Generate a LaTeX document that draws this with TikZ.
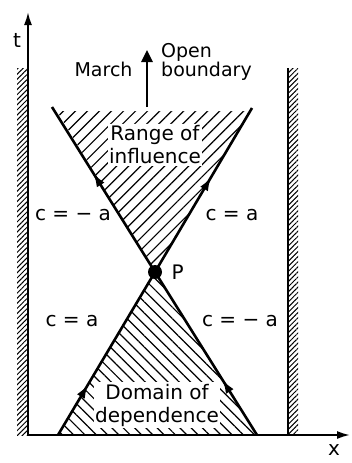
\documentclass[tikz,border=0pt]{standalone}
\usepackage{fontspec}
\setmainfont{DejaVu Sans}
\usetikzlibrary{arrows.meta, patterns.meta, decorations.markings}

\tikzset{
  charline/.style={line width=2.6pt},
  midarrow/.style={postaction={decorate}, decoration={markings,
      mark=at position #1 with {\arrow{Latex[length=14pt,width=9pt]}}}},
  wallhatch/.style={pattern={Lines[angle=45,distance=3.6pt,line width=1pt]}},
  uphatch/.style={pattern={Lines[angle=45,distance=8.5pt,line width=1.2pt]}},
  downhatch/.style={pattern={Lines[angle=-45,distance=8pt,line width=1.2pt]}},
  lbl/.style={fill=white, inner sep=1.5pt}
}

\begin{document}
\begin{tikzpicture}[x=1pt, y=-1pt, font=\fontsize{20}{23}\selectfont]
  \useasboundingbox (0,0) rectangle (351,463);
  % points
  \coordinate (P) at (155,272);
  \coordinate (ul) at (52,107);
  \coordinate (ur) at (252,108);
  \coordinate (ll) at (58,435);
  \coordinate (lr) at (257,435);
  \coordinate (ut) at (57,111);
  \coordinate (urt) at (250,111);
  \coordinate (O) at (28,435);
  \coordinate (tend) at (28,12);
  \coordinate (xend) at (350,435);
  \coordinate (wr) at (288,68);
  \coordinate (wrb) at (288,435);

  % hatched regions
  \fill[wallhatch] (17,68) rectangle (28,435);
  \fill[wallhatch] (288,68) rectangle (298,435);
  \fill[uphatch] (P) -- (ut) -- (urt) -- cycle;
  \fill[downhatch] (P) -- (ll) -- (lr) -- cycle;

  % region labels
  \node[lbl, align=center] (range) at (155,145) {Range of\\influence};
  \node[lbl, align=center] (domain) at (157,405) {Domain of\\dependence};

  % axes and wall
  \draw[line width=1.8pt, -{Latex[length=13pt,width=8pt]}] (O) -- (tend);
  \draw[line width=1.8pt, -{Latex[length=13pt,width=8pt]}] (O) -- (xend);
  \draw[line width=2.4pt] (wr) -- (wrb);
  \node (tlab) at (17,40) {t};
  \node (xlab) at (334,450) {x};

  % characteristics
  \draw[charline, midarrow=0.6] (P) -- (ul);
  \draw[charline, midarrow=0.58] (P) -- (ur);
  \draw[charline, midarrow=0.31] (ll) -- (P);
  \draw[charline, midarrow=0.34] (lr) -- (P);
  \fill (P) circle (7);
  \node[anchor=west] (plab) at (168,272) {P};

  \node (c1) at (73,215) {c = − a};
  \node (c2) at (232,215) {c = a};
  \node (c3) at (72,321) {c = a};
  \node (c4) at (240,321) {c = − a};

  % marching direction
  \coordinate (mlow) at (147,107);
  \coordinate (mtop) at (147,50);
  \draw[line width=2.6pt, -{Triangle[length=12pt,width=11pt]}] (mlow) -- (mtop);
  \node[anchor=base east, font=\fontsize{19}{19}\selectfont] (march) at (136,76) {March};
  \node[anchor=base west, align=left, inner sep=0pt, font=\fontsize{19}{19}\selectfont] (open) at (161,76) {Open\\boundary};
\end{tikzpicture}
\end{document}
